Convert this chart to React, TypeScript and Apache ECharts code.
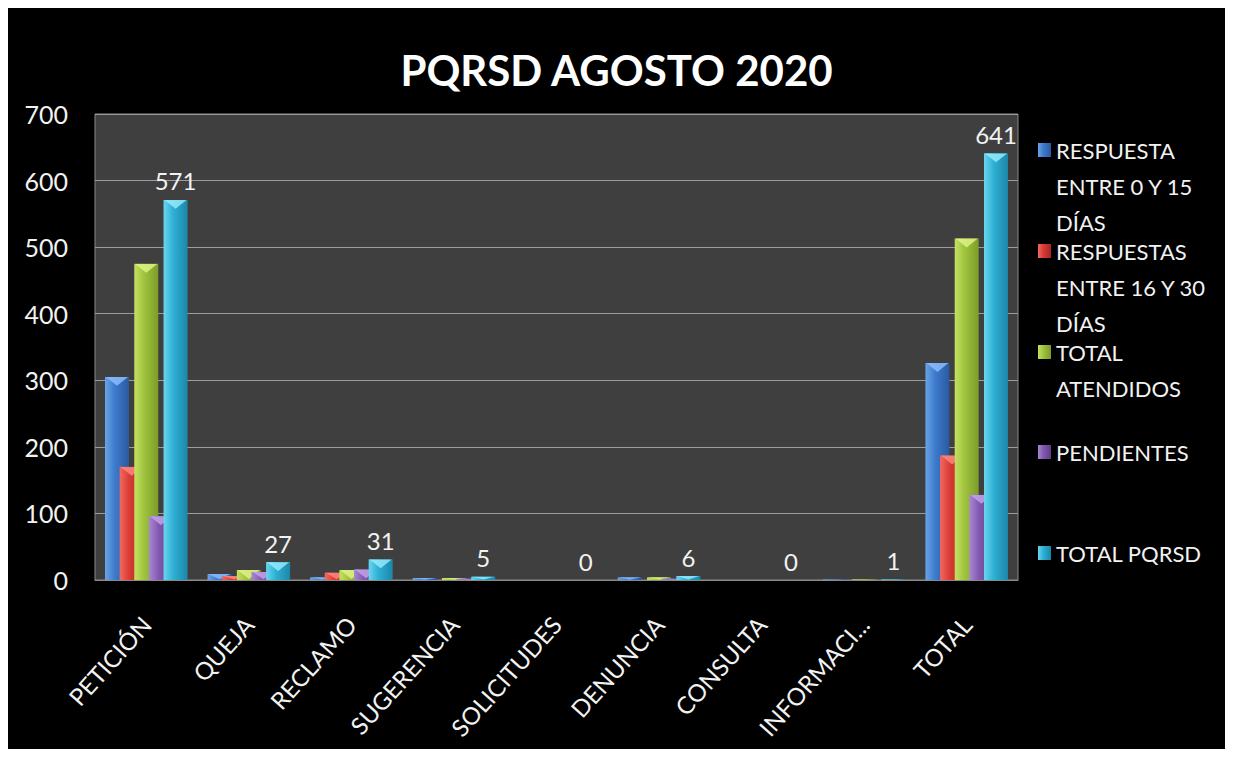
import React, { useEffect, useRef } from 'react';
import * as echarts from 'echarts';

const categories = ['PETICIÓN', 'QUEJA', 'RECLAMO', 'SUGERENCIA', 'SOLICITUDES', 'DENUNCIA', 'CONSULTA', 'INFORMACI...', 'TOTAL'];
const seriesNames = ['RESPUESTA ENTRE 0 Y 15 DÍAS', 'RESPUESTAS ENTRE 16 Y 30 DÍAS', 'TOTAL ATENDIDOS', 'PENDIENTES', 'TOTAL PQRSD'];
const legendLines = [
  ['RESPUESTA', 'ENTRE 0 Y 15', 'DÍAS'],
  ['RESPUESTAS', 'ENTRE 16 Y 30', 'DÍAS'],
  ['TOTAL', 'ATENDIDOS'],
  ['PENDIENTES'],
  ['TOTAL PQRSD'],
];
const resp0a15 = [305, 9, 4, 3, 0, 4, 0, 1, 326];
const resp16a30 = [170, 6, 11, 0, 0, 0, 0, 0, 187];
const totalAtendidos = [475, 15, 15, 3, 0, 4, 0, 1, 513];
const pendientes = [96, 12, 16, 2, 0, 2, 0, 0, 128];
const totalPqrsd = [571, 27, 31, 5, 0, 6, 0, 1, 641];
const yMin = 0;
const yMax = 700;
const yInterval = 100;

const FONT = 'Lato, "Open Sans", sans-serif';

const palette = [
  ['#6aa3e8', '#3d7bcc', '#2a5aa0', '#8fc0ff'],
  ['#f06a62', '#da3b35', '#a82622', '#ff8c84'],
  ['#c4e062', '#a0c43e', '#7b9c28', '#e2f58a'],
  ['#a888d2', '#8259b0', '#5e3d88', '#c4a6ee'],
  ['#6ad6ef', '#2eb0d4', '#1c86a8', '#9aeeff'],
];

function grad(c: string[]) {
  return new echarts.graphic.LinearGradient(0, 0, 1, 0, [
    { offset: 0, color: c[0] },
    { offset: 0.4, color: c[1] },
    { offset: 1, color: c[2] },
  ]);
}

export default function App() {
  const ref = useRef<HTMLDivElement>(null);
  useEffect(() => {
    if (!ref.current) return;
    const chart = echarts.init(ref.current, null, { renderer: 'svg' });
    const values = [resp0a15, resp16a30, totalAtendidos, pendientes, totalPqrsd];
    const L = 36;
    const iconY = [142, 243, 344, 444, 545];
    const legends = seriesNames.map((name, i) => {
      const lines = legendLines[i];
      const pre = lines.length - 1;
      const text = '\n'.repeat(pre) + lines.join('\n');
      const total = lines.length + pre;
      return {
        orient: 'vertical',
        left: 1030,
        top: iconY[i] - (total * L) / 2,
        padding: 0,
        itemWidth: 13,
        itemHeight: 14,
        icon: 'rect',
        data: [name],
        formatter: () => text,
        selectedMode: false,
        textStyle: { color: '#f2f2f2', fontSize: 22, fontFamily: FONT, lineHeight: L },
      };
    });
    const bars = seriesNames.map((name, i) => ({
      name,
      type: 'bar',
      z: 10 + i * 2,
      data: values[i],
      barWidth: 24,
      barGap: '-39%',
      itemStyle: { color: grad(palette[i]) },
      label: i === 4
        ? { show: true, position: 'top', distance: 7, color: '#f2f2f2', fontSize: 24, fontFamily: FONT }
        : { show: false },
    }));
    const caps = seriesNames.map((name, i) => ({
      name,
      type: 'pictorialBar',
      z: 11 + i * 2,
      symbol: 'triangle',
      symbolRotate: 180,
      symbolPosition: 'end',
      symbolOffset: [0, 0],
      barWidth: 24,
      barGap: '-39%',
      itemStyle: { color: palette[i][3], opacity: 0.8 },
      silent: true,
      data: values[i].map((v) => ({ value: v, symbolSize: [22, Math.min(9, v * 0.6)] })),
    }));
    chart.setOption({
      animation: false,
      backgroundColor: '#000000',
      title: {
        text: 'PQRSD AGOSTO 2020',
        left: 'center',
        top: 36,
        textStyle: { color: '#ffffff', fontSize: 42, fontWeight: 'bold', fontFamily: FONT },
      },
      legend: legends,
      grid: {
        left: 87,
        top: 106,
        right: 207,
        bottom: 169,
        show: true,
        backgroundColor: '#3f3f3f',
        borderColor: '#8a8a8a',
        borderWidth: 1,
        containLabel: false,
      },
      xAxis: {
        type: 'category',
        data: categories,
        axisLine: { show: true, lineStyle: { color: '#8a8a8a', width: 1 } },
        axisTick: { show: false },
        axisLabel: {
          rotate: 48,
          margin: 40,
          interval: 0,
          color: '#f2f2f2',
          fontSize: 24,
          fontFamily: FONT,
        },
      },
      yAxis: {
        type: 'value',
        min: yMin,
        max: yMax,
        interval: yInterval,
        axisLine: { show: false },
        axisTick: { show: false },
        splitLine: { show: true, lineStyle: { color: '#9c9c9c', width: 1 } },
        axisLabel: { margin: 27, color: '#f2f2f2', fontSize: 25, fontFamily: FONT },
      },
      series: [...bars, ...caps],
    });
    return () => chart.dispose();
  }, []);
  return <div ref={ref} style={{ width: 1217, height: 741 }} />;
}
